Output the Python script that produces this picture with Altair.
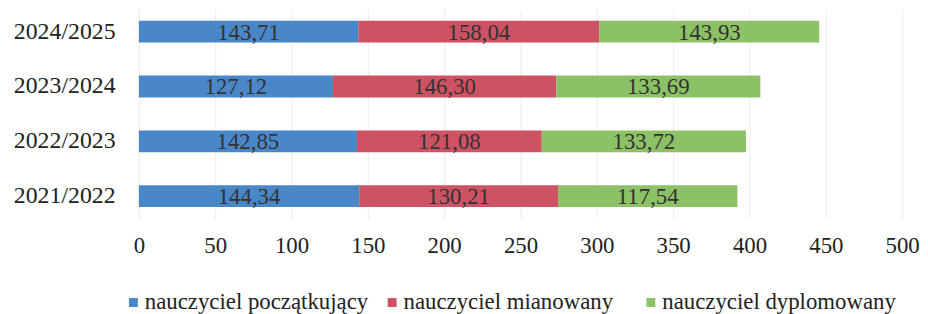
import altair as alt
import pandas as pd

years = ["2024/2025", "2023/2024", "2022/2023", "2021/2022"]
categories = ["nauczyciel początkujący", "nauczyciel mianowany", "nauczyciel dyplomowany"]
poczatkujacy = [143.71, 127.12, 142.85, 144.34]
mianowany = [158.04, 146.30, 121.08, 130.21]
dyplomowany = [143.93, 133.69, 133.72, 117.54]
colors = ["#4a87c9", "#cd5263", "#8cc166"]
x_ticks = [0, 50, 100, 150, 200, 250, 300, 350, 400, 450, 500]

rows = []
for series_idx, (cat, vals) in enumerate(zip(categories, [poczatkujacy, mianowany, dyplomowany])):
    for y, v in zip(years, vals):
        rows.append({"rok": y, "kategoria": cat, "wartosc": v, "kolej": series_idx,
                     "etykieta": f"{v:.2f}".replace(".", ",")})
df = pd.DataFrame(rows)

FONT = "Liberation Serif, Times New Roman, serif"

base = alt.Chart(df).transform_stack(
    stack="wartosc", groupby=["rok"], as_=["x0", "x1"],
    sort=[alt.SortField("kolej", order="ascending")]
)

y_enc = alt.Y("rok:N", sort=years, title=None,
              scale=alt.Scale(paddingInner=0.602, paddingOuter=0.208),
              axis=alt.Axis(domain=False, ticks=False, labelPadding=24,
                            labelFontSize=24, labelFont=FONT, labelColor="#222", grid=False))

bars = base.mark_bar(opacity=1).encode(
    x=alt.X("x0:Q", title=None,
            scale=alt.Scale(domain=[0, 500], nice=False),
            axis=alt.Axis(values=x_ticks, domain=False, ticks=False, tickSize=0,
                          labelPadding=16, labelFontSize=23, labelFont=FONT,
                          labelColor="#222", grid=True, gridColor="#ececec",
                          gridWidth=1, labelFlush=False)),
    x2="x1:Q",
    y=y_enc,
    color=alt.Color("kategoria:N", sort=categories,
                    scale=alt.Scale(domain=categories, range=colors),
                    legend=alt.Legend(title=None, orient="none", direction="horizontal",
                                      legendX=-17, legendY=284, padding=0,
                                      symbolType="square", symbolSize=81,
                                      symbolStrokeWidth=0, symbolOpacity=1,
                                      labelFont=FONT, labelFontSize=23, labelColor="#222",
                                      labelOffset=0, columnPadding=2, gridAlign="all",
                                      labelLimit=400)),
)

texts = base.transform_calculate(mid="(datum.x0 + datum.x1) / 2").mark_text(
    font=FONT, fontSize=23, color="#333", baseline="middle", align="center", dy=1
).encode(
    x="mid:Q",
    y=alt.Y("rok:N", sort=years),
    text="etykieta:N",
)

chart = (bars + texts).properties(
    width=770, height=211,
    background="white",
    autosize=alt.AutoSizeParams(type="none"),
    padding={"left": 132, "top": 0, "right": 18, "bottom": 95},
).configure_view(strokeWidth=0, stroke=None)

chart.save("out.html", embed_options={"renderer": "svg", "actions": False})
